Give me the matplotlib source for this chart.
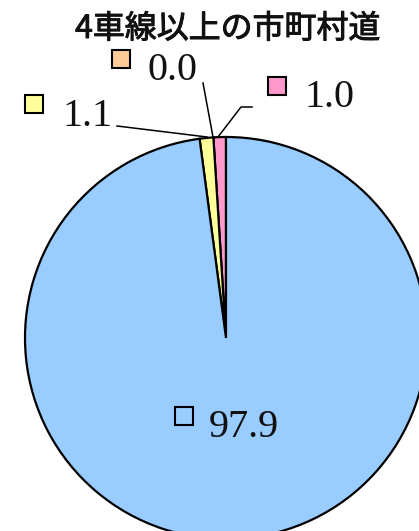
import matplotlib.pyplot as plt
import matplotlib.patheffects as pe

plt.rcParams['font.family'] = ['Liberation Serif', 'Noto Sans CJK JP']

# データ
title = '4車線以上の市町村道'
labels = ['0.0', '1.0', '1.1', '97.9']
values = [0.0, 1.0, 1.1, 97.9]
colors = ['#FFCC99', '#FF99CC', '#FFFF99', '#99CCFF']

W, H = 419, 531

def py(y):
    # ピクセル座標(上から) -> データ座標
    return H - y

# ラベル配置 (ピクセル): 四角の中心, 文字の左端, ベースライン
key_pos = [(121, 59), (277, 86), (34, 104), (184, 416)]
text_pos = [(147, 80), (304, 107), (62, 126), (209, 437)]
leaders = [
    [(203, 83), (213, 137)],
    [(252, 107), (241, 107), (218, 137)],
    [(117, 126), (207, 137)],
]

fig = plt.figure(figsize=(W / 100, H / 100), dpi=100)
ax = fig.add_axes([0, 0, 1, 1])
ax.pie(values, colors=colors, startangle=90, counterclock=True,
       center=(226, py(338)), radius=201,
       wedgeprops={'edgecolor': 'black', 'linewidth': 1.6})
ax.set_xlim(0, W)
ax.set_ylim(0, H)
ax.set_aspect('equal')
ax.axis('off')

for (kx, ky), (tx, ty), lab, c in zip(key_pos, text_pos, labels, colors):
    ax.plot([kx], [py(ky)], marker='s', ms=13, mfc=c, mec='black', mew=1.5, ls='none')
    ax.text(tx, py(ty), lab, fontsize=29, ha='left', va='baseline', color='#111111')

for pts in leaders:
    ax.plot([p[0] for p in pts], [py(p[1]) for p in pts], color='black', lw=1.1)

fig.text(228 / W, 1 - 29 / H, title, ha='center', va='center', fontsize=23,
         family=['Noto Sans CJK JP'], color='#111111',
         path_effects=[pe.withStroke(linewidth=0.7, foreground='#111111')])

fig.savefig('out.png', dpi=100)
